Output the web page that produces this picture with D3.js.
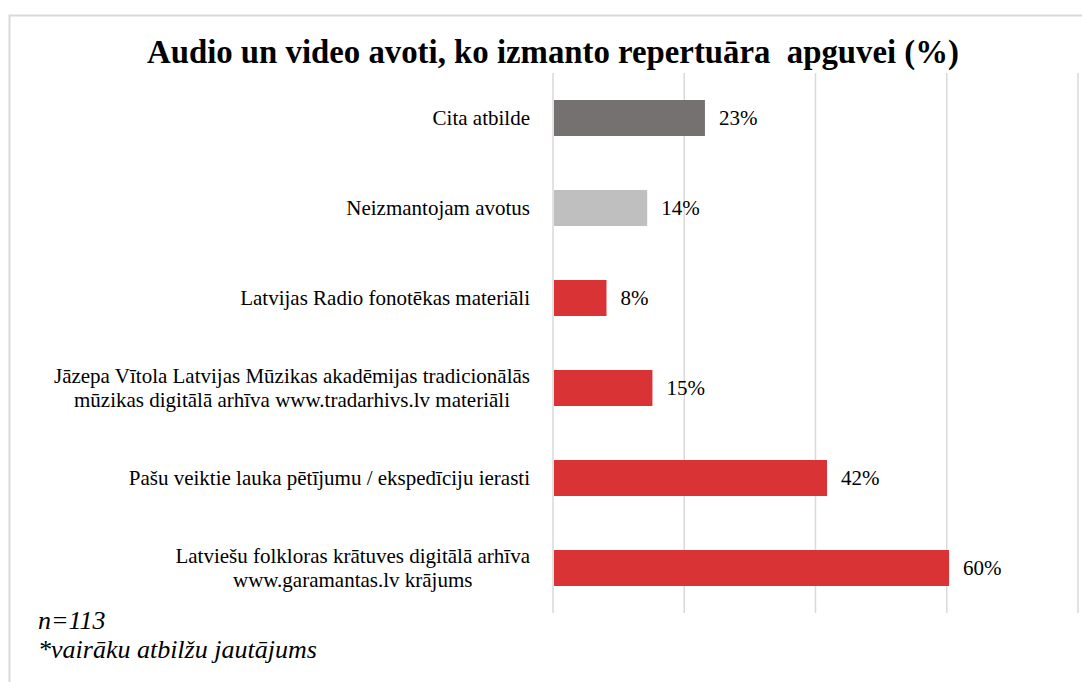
<!DOCTYPE html>
<html>
<head>
<meta charset="utf-8">
<script src="https://cdn.jsdelivr.net/npm/d3@7"></script>
<style>
  body { margin: 0; background: #fff; }
  text { font-family: "Liberation Serif", "Times New Roman", serif; }
</style>
</head>
<body>
<div id="chart"></div>
<script>
// Data (top to bottom, as drawn)
const categories = [
  "Cita atbilde",
  "Neizmantojam avotus",
  "Latvijas Radio fonotēkas materiāli",
  "Jāzepa Vītola Latvijas Mūzikas akadēmijas tradicionālās|mūzikas digitālā arhīva www.tradarhivs.lv materiāli",
  "Pašu veiktie lauka pētījumu / ekspedīciju ierasti",
  "Latviešu folkloras krātuves digitālā arhīva|www.garamantas.lv krājums"
];
const values = [23.0, 14.2, 8.0, 15.0, 41.6, 60.2];
const valueLabels = ["23%", "14%", "8%", "15%", "42%", "60%"];
const barColors = ["#767171", "#BFBFBF", "#D93335", "#D93335", "#D93335", "#D93335"];
const xTicks = [0, 20, 40, 60, 80];
const title = "Audio un video avoti, ko izmanto repertuāra  apguvei (%)";
const notes = ["n=113", "*vairāku atbilžu jautājums"];

const width = 1082, height = 682;
const svg = d3.select("#chart").append("svg")
  .attr("width", width).attr("height", height);

// outer frame
svg.append("rect")
  .attr("x", 9.5).attr("y", 15.5)
  .attr("width", width + 10).attr("height", height + 10)
  .attr("fill", "none").attr("stroke", "#D9D9D9").attr("stroke-width", 2);

const x = d3.scaleLinear().domain([0, 80]).range([553, 1078]);
const y = d3.scaleBand().domain(categories).range([73, 613]).paddingInner(0.6).paddingOuter(0.3);

// gridlines
svg.append("g").selectAll("line")
  .data(xTicks).join("line")
  .attr("x1", d => x(d)).attr("x2", d => x(d))
  .attr("y1", 73).attr("y2", 613)
  .attr("stroke", "#D9D9D9").attr("stroke-width", 1.5);

// bars
svg.append("g").selectAll("rect")
  .data(values).join("rect")
  .attr("x", x(0) + 1)
  .attr("y", (d, i) => y(categories[i]))
  .attr("width", d => x(d) - x(0))
  .attr("height", y.bandwidth())
  .attr("fill", (d, i) => barColors[i]);

// value labels
svg.append("g").selectAll("text")
  .data(values).join("text")
  .attr("x", d => x(d) + 15)
  .attr("y", (d, i) => y(categories[i]) + y.bandwidth() / 2 + 7)
  .attr("font-size", 21)
  .attr("fill", "#000")
  .text((d, i) => valueLabels[i]);

// category labels: lines centred on each other, block right-aligned
const labelRight = 530;
categories.forEach((c, i) => {
  const lines = c.split("|");
  const cy = y(c) + y.bandwidth() / 2;
  const t = svg.append("text")
    .attr("font-size", 21)
    .attr("fill", "#000");
  lines.forEach((ln, j) => {
    t.append("tspan")
      .attr("x", 0)
      .attr("y", cy + 7 + (j - (lines.length - 1) / 2) * 24)
      .text(ln);
  });
  const w = d3.max(t.selectAll("tspan").nodes(), n => n.getComputedTextLength());
  t.attr("text-anchor", "middle")
    .selectAll("tspan").attr("x", labelRight - w / 2);
});

// title
svg.append("text")
  .attr("x", 553).attr("y", 63)
  .attr("text-anchor", "middle")
  .attr("font-size", 32.8)
  .attr("font-weight", "bold")
  .style("white-space", "pre")
  .text(title);

// notes
svg.selectAll(".note")
  .data(notes).join("text")
  .attr("class", "note")
  .attr("x", 38)
  .attr("y", (d, i) => 629 + i * 29)
  .attr("font-size", 26)
  .attr("font-style", "italic")
  .text(d => d);
</script>
</body>
</html>
